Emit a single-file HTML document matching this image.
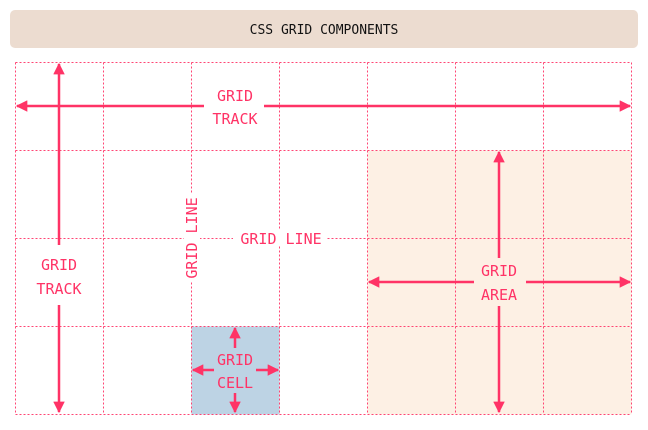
<!DOCTYPE html>
<html><head><style>
body{margin:0;background:#fff;}
text{font-family:"DejaVu Sans Mono","Liberation Mono",monospace;}
</style></head><body>
<svg width="648" height="425" xmlns="http://www.w3.org/2000/svg">
<defs>
<marker id="a" viewBox="0 0 10 10" refX="9" refY="5" markerWidth="4.6" markerHeight="4.6" orient="auto-start-reverse" markerUnits="strokeWidth"><path d="M0,0L10,5L0,10z" fill="#ff3366"/></marker>
</defs>
<rect x="10" y="10" width="628" height="38" rx="5" fill="#ecdcd0"/>
<text x="324" y="34" text-anchor="middle" font-size="13" fill="#111">CSS GRID COMPONENTS</text>
<rect x="367.5" y="150.5" width="264" height="264" fill="#fdf0e4"/>
<rect x="191.5" y="326.5" width="88" height="88" fill="#bdd3e4"/>
<g stroke="#ff3366" stroke-width="1" stroke-dasharray="2,2" fill="none" opacity="0.9">
<path d="M15.5 62.5V414.5M103.5 62.5V414.5M191.5 62.5V414.5M279.5 62.5V414.5M367.5 62.5V414.5M455.5 62.5V414.5M543.5 62.5V414.5M631.5 62.5V414.5"/>
<path d="M15.5 62.5H631.5M15.5 150.5H631.5M15.5 238.5H631.5M15.5 326.5H631.5M15.5 414.5H631.5"/>
</g>
<g stroke="#ff3366" stroke-width="2.5" fill="none">
<path d="M204 106H17" marker-end="url(#a)"/>
<path d="M264 106H630" marker-end="url(#a)"/>
<path d="M59 245V64" marker-end="url(#a)"/>
<path d="M59 305V412" marker-end="url(#a)"/>
<path d="M474 282H369" marker-end="url(#a)"/>
<path d="M526 282H630" marker-end="url(#a)"/>
<path d="M499 258V152" marker-end="url(#a)"/>
<path d="M499 306V412" marker-end="url(#a)"/>
<path d="M235 348V328" marker-end="url(#a)"/>
<path d="M235 393V412" marker-end="url(#a)"/>
<path d="M214 370H193" marker-end="url(#a)"/>
<path d="M256 370H278" marker-end="url(#a)"/>
</g>
<rect x="233" y="230" width="94" height="16" fill="#fff"/>
<rect x="184" y="194" width="16" height="88" fill="#fff"/>
<g fill="#ff3366" font-size="15" text-anchor="middle">
<text x="235" y="101">GRID</text><text x="235" y="124">TRACK</text>
<text x="59" y="270">GRID</text><text x="59" y="294">TRACK</text>
<text x="499" y="276">GRID</text><text x="499" y="300">AREA</text>
<text x="235" y="365">GRID</text><text x="235" y="388">CELL</text>
<text x="281" y="244">GRID LINE</text>
<text transform="translate(197,238) rotate(-90)" x="0" y="0">GRID LINE</text>
</g>
</svg>
</body></html>
